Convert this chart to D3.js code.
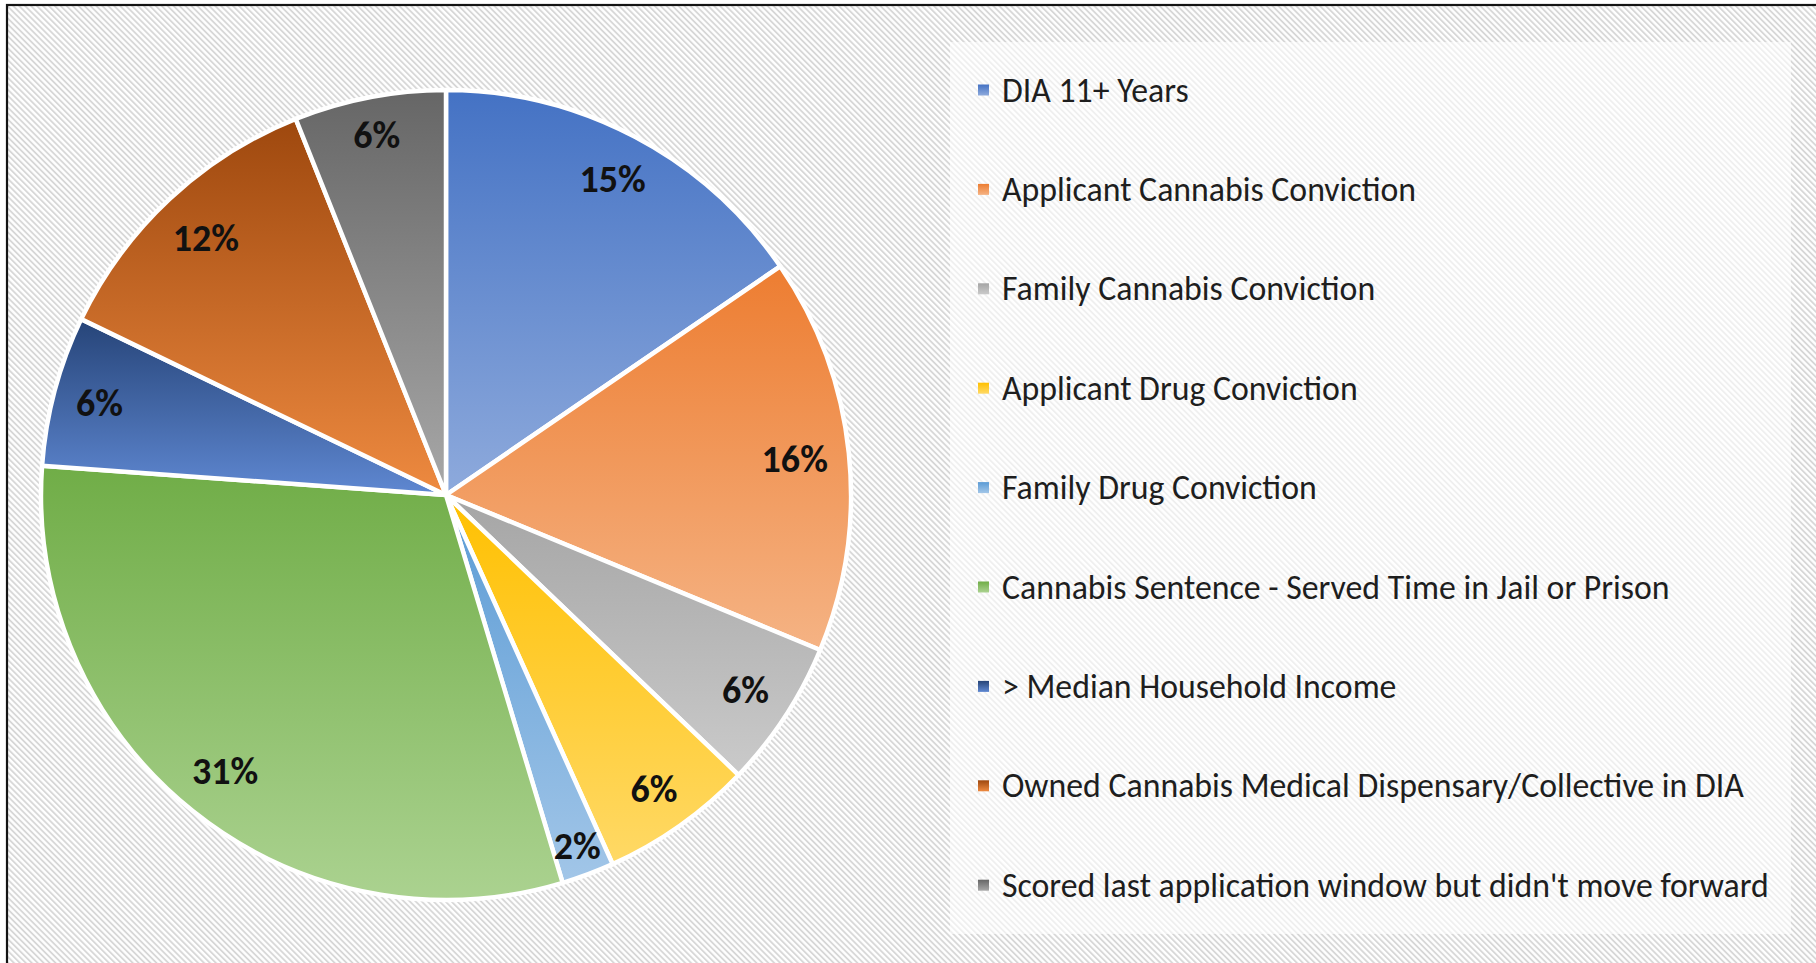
<!DOCTYPE html>
<html>
<head>
<meta charset="utf-8">
<script src="https://cdn.jsdelivr.net/npm/d3@7"></script>
<style>
  body { margin: 0; background: #fff; }
  svg { display: block; }
</style>
</head>
<body>
<div id="chart"></div>
<script>
const categories = [
  "DIA 11+ Years",
  "Applicant Cannabis Conviction",
  "Family Cannabis Conviction",
  "Applicant Drug Conviction",
  "Family Drug Conviction",
  "Cannabis Sentence - Served Time in Jail or Prison",
  "> Median Household Income",
  "Owned Cannabis Medical Dispensary/Collective in DIA",
  "Scored last application window but didn't move forward"
];
const values = [15.45, 15.8, 5.9, 6.1, 2.1, 30.8, 6.0, 11.8, 6.05];

// slice gradients, top colour -> bottom colour
const topColors = ["#4472c4", "#ed7d31", "#a5a5a5", "#ffc000", "#5b9bd5", "#70ad47", "#264478", "#9e480e", "#666666"];
const bottomColors = ["#8eaadc", "#f5b384", "#cacaca", "#ffd966", "#a2c6e8", "#abd290", "#5f88d2", "#ee8a40", "#a8a8a8"];

const WIDTH = 1816, HEIGHT = 963;
const center = { x: 446, y: 495 };
const radius = 405;
const fontFamily = "Carlito, Calibri, 'Open Sans', sans-serif";

const svg = d3.select("#chart")
  .append("svg")
  .attr("width", WIDTH)
  .attr("height", HEIGHT);

const defs = svg.append("defs");

//Hatched background
const hatch = defs.append("pattern")
  .attr("id", "hatch")
  .attr("patternUnits", "userSpaceOnUse")
  .attr("width", 4.2)
  .attr("height", 4.2)
  .attr("patternTransform", "rotate(-45)");
hatch.append("rect").attr("width", 4.2).attr("height", 4.2).attr("fill", "#ffffff");
hatch.append("line")
  .attr("x1", 1).attr("y1", 0).attr("x2", 1).attr("y2", 4.2)
  .attr("stroke", "#d4d4d4")
  .attr("stroke-width", 1.7);

//Slice gradients
categories.forEach((c, i) => {
  const g = defs.append("linearGradient")
    .attr("id", "grad" + i)
    .attr("x1", 0).attr("y1", 0).attr("x2", 0).attr("y2", 1);
  g.append("stop").attr("offset", "0%").attr("stop-color", topColors[i]);
  g.append("stop").attr("offset", "100%").attr("stop-color", bottomColors[i]);
});

//Chart frame
svg.append("rect")
  .attr("x", 7)
  .attr("y", 5)
  .attr("width", WIDTH)
  .attr("height", HEIGHT)
  .attr("fill", "url(#hatch)")
  .attr("stroke", "#141414")
  .attr("stroke-width", 2.2);

//Legend box
svg.append("rect")
  .attr("x", 950)
  .attr("y", 42)
  .attr("width", 841)
  .attr("height", 892)
  .attr("fill", "#ffffff")
  .attr("opacity", 0.6);

//Pie
const pie = d3.pie().sort(null).value((d) => d);
const arcs = pie(values);
const arc = d3.arc().innerRadius(0).outerRadius(radius);

const pieG = svg.append("g")
  .attr("transform", "translate(" + center.x + "," + center.y + ")");

pieG.selectAll("path")
  .data(arcs)
  .enter()
  .append("path")
  .attr("d", arc)
  .attr("fill", (d, i) => "url(#grad" + i + ")")
  .attr("stroke", "#ffffff")
  .attr("stroke-width", 4.5)
  .attr("stroke-linejoin", "round");

//Labels placed at the inside end of each slice
pieG.selectAll("text")
  .data(arcs)
  .enter()
  .append("text")
  .text((d) => Math.round(d.value) + "%")
  .attr("text-anchor", "middle")
  .attr("dominant-baseline", "central")
  .style("font-family", fontFamily)
  .style("font-weight", "bold")
  .style("font-size", "38px")
  .style("fill", "#111111")
  .each(function (d) {
    const box = this.getBBox();
    const a = (d.startAngle + d.endAngle) / 2;
    const ux = Math.sin(a), uy = -Math.cos(a);
    const extent = Math.abs(ux) * box.width / 2 + Math.abs(uy) * 14;
    const pad = d.value < 3 ? 9 : 20;
    const dist = radius - pad - extent;
    d3.select(this).attr("x", ux * dist).attr("y", uy * dist);
  });

//Legend
const legendX = 978;
const legendY = 90;
const legendStep = 99.4;

const legendRows = svg.append("g")
  .selectAll("g")
  .data(categories)
  .enter()
  .append("g")
  .attr("transform", (d, i) => "translate(" + legendX + "," + (legendY + i * legendStep) + ")");

legendRows.append("rect")
  .attr("x", 0)
  .attr("y", -5.5)
  .attr("width", 11)
  .attr("height", 11)
  .attr("fill", (d, i) => "url(#grad" + i + ")");

const legendText = legendRows.append("text")
  .attr("x", 24)
  .attr("y", 0)
  .attr("dominant-baseline", "central")
  .style("font-family", fontFamily)
  .style("font-size", "26px")
  .style("fill", "#1e1e1e")
  .text((d) => d);

//fit the longest legend line to the width seen in the picture
const longest = d3.max(legendText.nodes(), (n) => n.getComputedTextLength());
const fitSize = 26 * 767 / longest;
legendText.style("font-size", fitSize + "px");
</script>
</body>
</html>
